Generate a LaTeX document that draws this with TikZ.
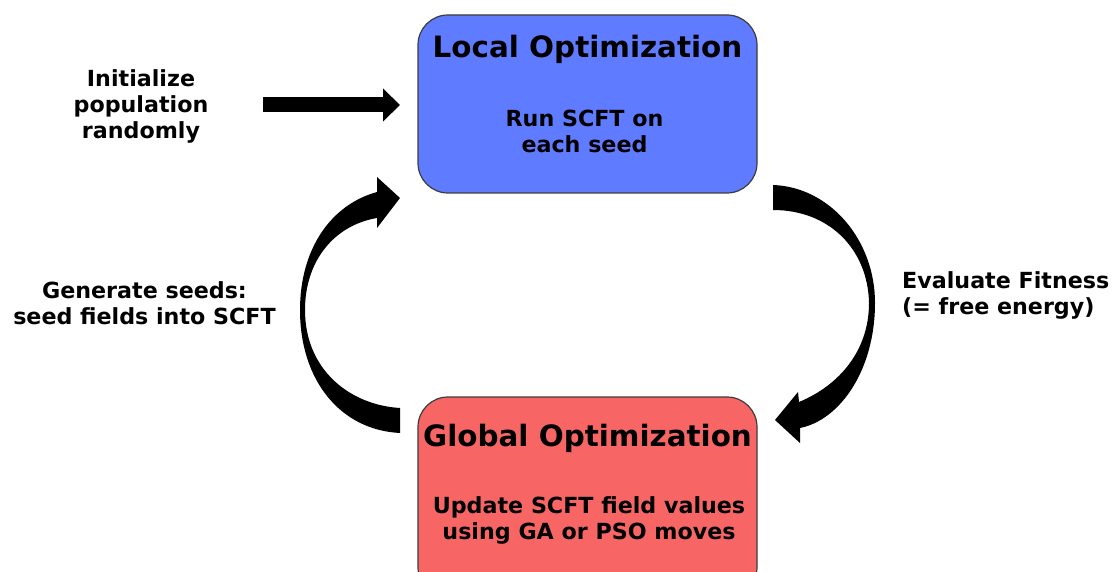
\documentclass[tikz,border=0pt]{standalone}
\usepackage{fontspec}
\setmainfont{DejaVu Sans}
\usetikzlibrary{arrows.meta}
\definecolor{boxblue}{RGB}{95,123,255}
\definecolor{boxred}{RGB}{248,101,101}
\definecolor{edgegray}{RGB}{60,60,60}
\begin{document}
\begin{tikzpicture}[x=1pt,y=-1pt,
  box/.style={draw=edgegray, line width=1.2pt, rounded corners=30pt, minimum width=339pt, inner sep=0pt},
  titletext/.style={font=\fontsize{29.4}{34}\selectfont\bfseries, inner sep=0pt},
  lbl/.style={font=\fontsize{22.2}{26}\selectfont\bfseries, align=center, inner sep=0pt},
  bigarrow/.style={fill=black, draw=none},
]
\useasboundingbox (0,0) rectangle (1114,572);
\clip (0,0) rectangle (1114,572);

% boxes
\node[box, fill=boxblue, minimum height=178pt] (local) at (587.5,104) {};
\node[box, fill=boxred, minimum height=200pt] (global) at (587.5,497) {};

% box texts
\node[titletext] (localtitle) at (587.5,49) {Local Optimization};
\node[lbl] (localbody) at (584.5,131) {Run SCFT on\\each seed};
\node[titletext] (globaltitle) at (587.5,438) {Global Optimization};
\node[lbl] (globalbody) at (589,520) {Update SCFT field values\\using GA or PSO moves};

% side labels
\node[lbl] (init) at (141,106) {Initialize\\population\\randomly};
\node[lbl] (gen) at (144.5,303) {Generate seeds:\\seed fields into SCFT};
\node[lbl, align=left, anchor=west] (eval) at (902,295) {Evaluate Fitness\\(= free energy)};

% straight arrow
\coordinate (initstart) at (263,105);
\coordinate (initend) at (400,105);
\draw[line width=15pt, -{Triangle[width=32pt,length=17pt]}] (initstart) -- (initend);

% left curved arrow (global -> local)
\fill[bigarrow]
  (400,433) .. controls (340,430) and (300,380) .. (300,310)
  .. controls (300,250) and (330,205) .. (377,192)
  -- (377,177) -- (400,198) -- (377,228) -- (377,218)
  .. controls (335,225) and (305,260) .. (305,310)
  .. controls (305,370) and (350,405) .. (400,408) -- cycle;

% right curved arrow (local -> global)
\fill[bigarrow]
  (773,185) .. controls (830,187) and (875,240) .. (875,303)
  .. controls (875,370) and (840,420) .. (800,428)
  -- (800,443) -- (775,420) -- (798,392) -- (799,402)
  .. controls (840,385) and (869,350) .. (869,303)
  .. controls (868,250) and (830,210) .. (773,210) -- cycle;
\end{tikzpicture}
\end{document}
